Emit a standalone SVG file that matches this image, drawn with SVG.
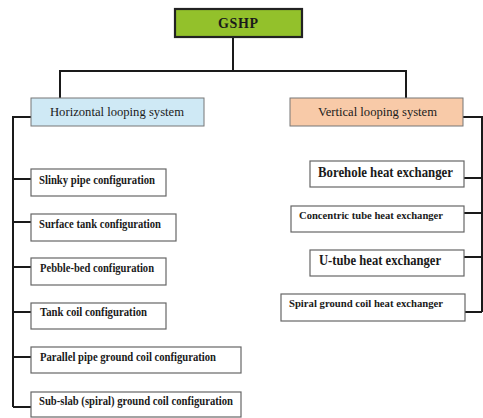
<svg xmlns="http://www.w3.org/2000/svg" width="483" height="418" viewBox="0 0 483 418">
<style>
.c{fill:none;stroke:#1a1a1a;stroke-width:2}
.b{fill:#fff;stroke:#666;stroke-width:1.2}
.t{font-family:"Liberation Serif",serif;font-weight:bold;font-size:12px;fill:#1a1a1a}
.l{font-size:14px}
.s{font-size:11px}
.h{font-family:"Liberation Serif",serif;font-size:13px;fill:#1a1a1a}
</style>
<rect width="483" height="418" fill="#fff"/>
<g id="connectors">
<path class="c" d="M233 37V71M60 71H406M60 70V98M406 70V98"/>
<path class="c" d="M31 117H13V407M13 179H31M13 222H31M13 267H31M13 312H31M13 357H31M13 407H31"/>
<path class="c" d="M463 117H482V312M464 178H482M464 213H482M464 257H482M465 312H482"/>
</g>
<g id="gshp"><rect x="175" y="9" width="127" height="28" fill="#93c12b" stroke="#222" stroke-width="2.2"/><text x="238" y="28" text-anchor="middle" font-family="Liberation Serif,serif" font-weight="bold" font-size="14" textLength="40" fill="#1a1a1a">GSHP</text></g>
<g id="horizontal"><rect x="31" y="98" width="173" height="28" fill="#cfe9f5" stroke="#777" stroke-width="1"/><text class="h" x="50" y="116" textLength="134" lengthAdjust="spacingAndGlyphs">Horizontal looping system</text></g>
<g id="vertical"><rect x="290" y="98" width="173" height="28" fill="#f8caa8" stroke="#777" stroke-width="1"/><text class="h" x="318" y="116" textLength="119" lengthAdjust="spacingAndGlyphs">Vertical looping system</text></g>
<g id="slinky"><rect class="b" x="31" y="169" width="135" height="27"/><text class="t" x="39" y="184" textLength="116" lengthAdjust="spacingAndGlyphs">Slinky pipe configuration</text></g>
<g id="surface"><rect class="b" x="31" y="214" width="145" height="27"/><text class="t" x="39" y="228" textLength="122" lengthAdjust="spacingAndGlyphs">Surface tank configuration</text></g>
<g id="pebble"><rect class="b" x="31" y="258" width="135" height="27"/><text class="t" x="40" y="272" textLength="114" lengthAdjust="spacingAndGlyphs">Pebble-bed configuration</text></g>
<g id="tankcoil"><rect class="b" x="31" y="303" width="135" height="26"/><text class="t" x="40" y="316" textLength="107" lengthAdjust="spacingAndGlyphs">Tank coil configuration</text></g>
<g id="parallel"><rect class="b" x="31" y="347" width="210" height="26"/><text class="t" x="40" y="361" textLength="176" lengthAdjust="spacingAndGlyphs">Parallel pipe ground coil configuration</text></g>
<g id="subslab"><rect class="b" x="31" y="392" width="210" height="25"/><text class="t" x="39" y="405" textLength="194" lengthAdjust="spacingAndGlyphs">Sub-slab (spiral) ground coil configuration</text></g>
<g id="borehole"><rect class="b" x="310" y="161" width="154" height="26"/><text class="t l" x="318" y="177" textLength="135" lengthAdjust="spacingAndGlyphs">Borehole heat exchanger</text></g>
<g id="concentric"><rect class="b" x="291" y="206" width="173" height="26"/><text class="t s" x="299" y="219" textLength="144" lengthAdjust="spacingAndGlyphs">Concentric tube heat exchanger</text></g>
<g id="utube"><rect class="b" x="310" y="250" width="154" height="26"/><text class="t l" x="319" y="265" textLength="122" lengthAdjust="spacingAndGlyphs">U-tube heat exchanger</text></g>
<g id="spiral"><rect class="b" x="281" y="294" width="184" height="27"/><text class="t s" x="289" y="307" textLength="154" lengthAdjust="spacingAndGlyphs">Spiral ground coil heat exchanger</text></g>
</svg>
